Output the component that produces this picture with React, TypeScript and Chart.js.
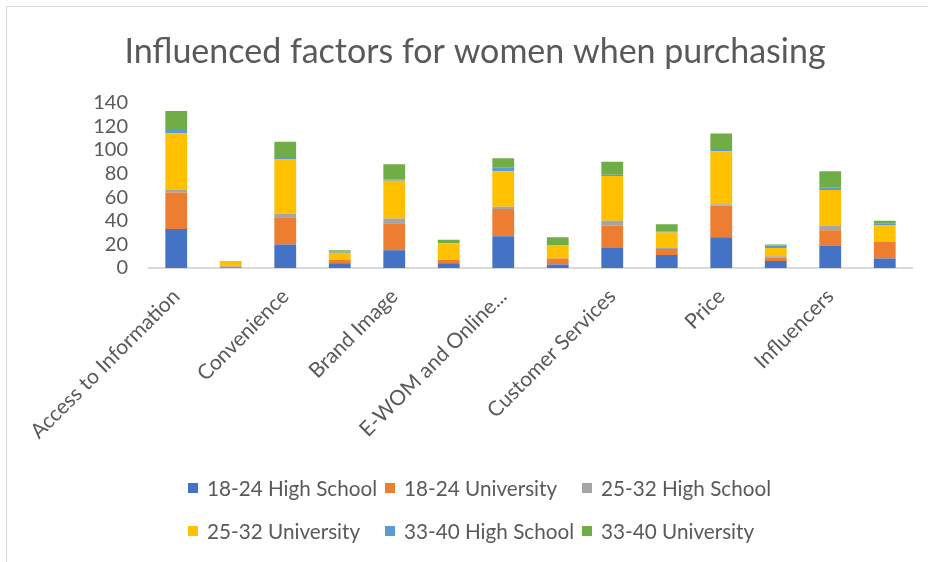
import { useEffect, useRef } from "react";
import { Chart, registerables } from "chart.js";

Chart.register(...registerables);

const TITLE = "Influenced factors for women when purchasing";

// Excel skipped every other category label; the skipped names are not readable.
const categories = [
  "Access to Information", "",
  "Convenience", "",
  "Brand Image", "",
  "E-WOM and Online...", "",
  "Customer Services", "",
  "Price", "",
  "Influencers", "",
];

const seriesNames = [
  "18-24 High School",
  "18-24 University",
  "25-32 High School",
  "25-32 University",
  "33-40 High School",
  "33-40 University",
];

const hs1824 = [33, 0, 20, 4, 15, 4, 27, 3, 17, 11, 26, 6, 19, 8];
const uni1824 = [31, 1, 23, 3, 23, 3, 23, 5, 19, 5, 27, 3, 13, 14];
const hs2532 = [2, 1, 3, 0, 4, 0, 2, 0, 4, 1, 1, 1, 4, 0];
const uni2532 = [48, 4, 46, 6, 32, 14, 30, 11, 38, 13, 45, 7, 30, 14];
const hs3340 = [3, 0, 2, 1, 1, 0, 3, 0, 1, 1, 1, 2, 2, 2];
const uni3340 = [16, 0, 13, 1, 13, 3, 8, 7, 11, 6, 14, 1, 14, 2];

const seriesValues = [hs1824, uni1824, hs2532, uni2532, hs3340, uni3340];
const colors = ["#4472C4", "#ED7D31", "#A5A5A5", "#FFC000", "#5B9BD5", "#70AD47"];

const Y_MIN = 0;
const Y_MAX = 140;
const Y_STEP = 20;

const TEXT = "#595959";
const FONT = "Lato, 'Open Sans', sans-serif";

export default function App() {
  const ref = useRef<HTMLCanvasElement>(null);

  useEffect(() => {
    const chart = new Chart(ref.current!, {
      type: "bar",
      data: {
        labels: categories,
        datasets: seriesNames.map((name, i) => ({
          label: name,
          data: seriesValues[i],
          backgroundColor: colors[i],
          borderWidth: 0,
          categoryPercentage: 1,
          barPercentage: 0.4,
        })),
      },
      options: {
        animation: false,
        responsive: false,
        devicePixelRatio: 1,
        layout: { padding: { left: 38, right: 16, top: 0, bottom: 0 } },
        plugins: {
          legend: { display: false },
          tooltip: { enabled: false },
          title: {
            display: true,
            text: TITLE,
            color: TEXT,
            font: { family: FONT, size: 34, weight: "normal", lineHeight: 1.2 },
            padding: { top: 32, bottom: 30 },
          },
        },
        scales: {
          x: {
            stacked: true,
            grid: { display: false, drawTicks: false },
            border: { display: true, color: "#D9D9D9", width: 2 },
            ticks: {
              autoSkip: false,
              minRotation: 45,
              maxRotation: 45,
              color: TEXT,
              font: { family: FONT, size: 21 },
              padding: 16,
            },
            afterFit: (s: any) => {
              s.height = 294;
            },
          },
          y: {
            stacked: true,
            min: Y_MIN,
            max: Y_MAX,
            grid: { display: false, drawTicks: false },
            border: { display: false },
            ticks: {
              autoSkip: false,
              stepSize: Y_STEP,
              color: TEXT,
              font: { family: FONT, size: 20 },
              padding: 21,
            },
            afterFit: (s: any) => {
              s.width = 111;
            },
          },
        },
      },
    } as any);
    return () => chart.destroy();
  }, []);

  return (
    <div
      style={{
        position: "absolute",
        left: 0,
        top: 0,
        width: 928,
        height: 562,
        overflow: "hidden",
        background: "#fff",
      }}
    >
      <div
        style={{
          position: "absolute",
          left: 6,
          top: 6,
          width: 922,
          height: 556,
          borderTop: "1px solid #D9D9D9",
          borderLeft: "1px solid #D9D9D9",
          boxSizing: "border-box",
        }}
      />
      <canvas
        ref={ref}
        width={928}
        height={562}
        style={{ position: "absolute", left: 0, top: 0, width: 928, height: 562 }}
      />
      <div
        style={{
          position: "absolute",
          left: 188,
          top: 466,
          display: "grid",
          gridTemplateColumns: "197px 197px 197px",
          gridAutoRows: "43px",
          fontFamily: FONT,
          fontSize: 20.7,
          color: TEXT,
        }}
      >
        {seriesNames.map((name, i) => (
          <div key={name} style={{ display: "flex", alignItems: "center", whiteSpace: "nowrap" }}>
            <span
              style={{
                display: "inline-block",
                width: 10,
                height: 10,
                background: colors[i],
                marginRight: 9,
              }}
            />
            <span>{name}</span>
          </div>
        ))}
      </div>
    </div>
  );
}
